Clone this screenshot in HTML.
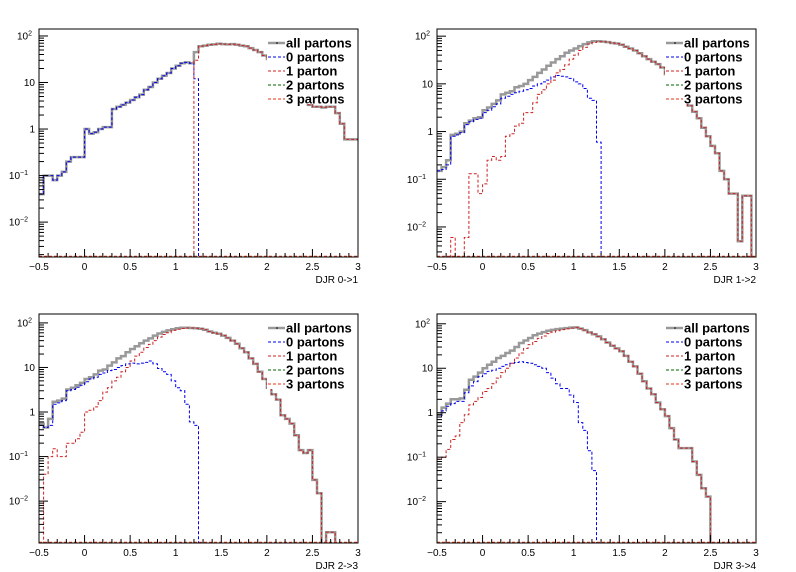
<!DOCTYPE html>
<html><head><meta charset="utf-8"><style>
html,body{margin:0;padding:0;background:#fff;}
svg{display:block;font-family:"Liberation Sans",sans-serif;}
</style></head><body>
<svg id="c" width="796" height="572" viewBox="0 0 796 572" xmlns="http://www.w3.org/2000/svg"></svg>
<script>
const binStart=-0.5, binWidth=0.05;
const xTickLabels=["\u22120.5","0","0.5","1","1.5","2","2.5","3"];
const xTickValues=[-0.5,0,0.5,1,1.5,2,2.5,3];
const axisTitles=["DJR 0->1","DJR 1->2","DJR 2->3","DJR 3->4"];
const legendLabels=["all partons","0 partons","1 parton","2 partons","3 partons"];
// panel 1
const all1=[0.04,0.1,0.1,0.08,0.1,0.12,0.2,0.25,0.25,0.25,1.0,0.8,0.85,1.0,1.1,1.1,2.7,3.0,3.3,3.7,4.2,4.8,5.5,7,8,10,12,14,16,20,23,26,27,26,45,60,62,65,66,68,67,66,67,65,62,60,55,50,45,38,32,26,20,15,11,8,6,4.5,3.8,3.3,3.0,3.0,2.9,3.0,3.0,2.2,1.3,0.6,0.6,0.6];
const p0_1=[0.04,0.1,0.1,0.08,0.1,0.12,0.2,0.25,0.25,0.25,1.0,0.8,0.85,1.0,1.1,1.1,2.7,3.0,3.3,3.7,4.2,4.8,5.5,7,8,10,12,14,16,20,23,26,27,26,12,0,0,0,0,0,0,0,0,0,0,0,0,0,0,0,0,0,0,0,0,0,0,0,0,0,0,0,0,0,0,0,0,0,0,0];
const p1_1=[0,0,0,0,0,0,0,0,0,0,0,0,0,0,0,0,0,0,0,0,0,0,0,0,0,0,0,0,0,0,0,0,0,0,30,60,62,65,66,68,67,66,67,65,62,60,55,50,45,38,32,26,20,15,11,8,6,4.5,3.8,3.3,3.0,3.0,2.9,3.0,3.0,2.2,1.3,0.6,0.6,0.6];
// panel 2
const all2=[0.15,0.18,0.25,0.85,0.9,1.0,1.5,1.7,1.9,2.0,2.8,3.2,3.8,4.5,6,6.5,7,8.5,9,10,12,14,17,20,24,28,33,38,45,50,55,62,68,74,78,78,77,75,72,70,66,60,55,50,44,38,33,29,26,22,16,12,8,6,4.5,3.5,2.6,1.9,1.2,0.8,0.5,0.35,0.15,0.1,0.05,0.05,0.005,0.045,0.045,0];
const p0_2=[0.15,0.16,0.2,0.8,0.85,0.95,1.4,1.6,1.8,1.9,2.5,2.8,3.3,3.8,5,5.5,6,6.5,7,7.5,8,9,10,11,12,14,15,14.5,14,13,11,10,8,5,4.5,0.6,0,0,0,0,0,0,0,0,0,0,0,0,0,0,0,0,0,0,0,0,0,0,0,0,0,0,0,0,0,0,0,0,0,0];
const p1_2=[0,0,0,0.006,0,0,0.006,0.13,0.13,0.05,0.08,0.25,0.3,0.25,0.3,0.8,0.9,1.3,1.5,2.5,2.5,4,6,7.5,10,12,17,20,25,33,40,50,58,68,74,77,77,75,72,70,66,60,55,50,44,38,33,29,26,22,16,12,8,6,4.5,3.5,2.6,1.9,1.2,0.8,0.5,0.35,0.15,0.1,0.05,0.05,0.005,0.045,0.045,0];
// panel 3
const all3=[0.55,0.45,0.7,1.7,1.8,2.0,3.2,3.5,4,4.5,5.5,6,7,8.5,9,11,13,16,18,22,26,30,35,40,45,52,58,63,68,72,76,78,78,77,76,74,70,64,60,57,52,46,40,34,27,22,16,12,8,5.5,3.5,2.5,1.9,0.85,0.7,0.55,0.3,0.14,0.12,0.14,0.03,0.015,0,0.002,0.002,0,0,0,0,0];
const p0_3=[0.5,0.45,0.5,1.5,1.6,1.8,3,3.2,3.6,4,4.8,5.5,6,7,7.5,8.5,9,10,11,12,12.5,12,12.5,13,14,12,9.5,8,7,5,3.5,3,1.5,0.6,0.5,0,0,0,0,0,0,0,0,0,0,0,0,0,0,0,0,0,0,0,0,0,0,0,0,0,0,0,0,0,0,0,0,0,0,0];
const p1_3=[0,0.04,0.1,0.15,0.1,0.1,0.2,0.2,0.25,0.35,1.0,1.1,1.3,1.8,2.8,3.5,5,6,8,10,14,18,22,28,33,40,48,55,60,68,72,75,77,77,76,74,70,64,60,57,52,46,40,34,27,22,16,12,8,5.5,3.5,2.5,1.9,0.85,0.7,0.55,0.3,0.14,0.12,0.14,0.03,0.015,0,0.002,0.002,0,0,0,0,0];
// panel 4
const all4=[0.9,1.3,1.6,2,2,2.1,3.3,5.5,6.5,8,10,12,14,17,19,22,25,30,37,42,48,55,60,65,70,73,76,78,80,82,83,78,72,64,58,52,45,38,32,28,24,19,14,11,7.5,5.1,3.5,2.6,1.7,1.2,0.84,0.45,0.25,0.16,0.16,0.16,0.08,0.04,0.02,0.013,0,0,0,0,0,0,0,0,0,0];
const p0_4=[0.8,1.1,1.4,1.6,1.8,1.8,2.8,4,5,6.5,7.5,8.5,9,10,11,12,13,13.5,14,13.5,13,12,11,10,8,6,4.5,3.5,3.5,2.5,1.7,0.6,0.4,0.14,0.05,0,0,0,0,0,0,0,0,0,0,0,0,0,0,0,0,0,0,0,0,0,0,0,0,0,0,0,0,0,0,0,0,0,0,0];
const p1_4=[0.09,0.1,0.15,0.25,0.3,0.6,0.9,1.5,1.8,2.2,3,3.5,4.5,6,8,10,13,17,22,28,34,40,47,53,60,65,70,74,77,80,82,78,72,64,58,52,45,38,32,28,24,19,14,11,7.5,5.1,3.5,2.6,1.7,1.2,0.84,0.45,0.25,0.16,0.16,0.16,0.08,0.04,0.02,0.013,0,0,0,0,0,0,0,0,0,0];

const panels=[
 {L:39,R:358,T:29,B:257,lo:-2.75,hi:2.15,all:all1,p0:p0_1,p1:p1_1,title:axisTitles[0]},
 {L:437,R:756,T:29,B:257,lo:-2.63,hi:2.15,all:all2,p0:p0_2,p1:p1_2,title:axisTitles[1]},
 {L:39,R:358,T:314,B:543,lo:-2.94,hi:2.2,all:all3,p0:p0_3,p1:p1_3,title:axisTitles[2]},
 {L:437,R:756,T:314,B:543,lo:-2.93,hi:2.22,all:all4,p0:p0_4,p1:p1_4,title:axisTitles[3]}
];
const NS="http://www.w3.org/2000/svg";
const svg=document.getElementById('c');
function mk(tag,attrs,parent){const e=document.createElementNS(NS,tag);for(const k in attrs)e.setAttribute(k,attrs[k]);(parent||svg).appendChild(e);return e;}
const supMap={"2":"2","-1":"\u22121","-2":"\u22122"};

panels.forEach((p,pi)=>{
 const g=mk('g',{});
 
 
 const xs=v=>p.L+(v-(-0.5))/3.5*(p.R-p.L);
 const ys=v=>{const lv=Math.log10(v);return p.B-(lv-p.lo)/(p.hi-p.lo)*(p.B-p.T);};
 const cid='clip'+pi;
 const defs=mk('defs',{},g);const cp=mk('clipPath',{id:cid},defs);mk('rect',{x:p.L,y:p.T,width:p.R-p.L,height:p.B-p.T},cp);
 function stepPath(arr){
  let d='';
  arr.forEach((v,i)=>{
   const x0=xs(binStart+i*binWidth),x1=xs(binStart+(i+1)*binWidth);
   const y=v>0?Math.min(ys(v),p.B+2):p.B+2;
   d+=(i===0?'M':'L')+x0.toFixed(1)+','+y.toFixed(1)+'L'+x1.toFixed(1)+','+y.toFixed(1);
  });
  return d;
 }
 const sg=mk('g',{'clip-path':'url(#'+cid+')'},g);
 const a=mk('path',{d:stepPath(p.all),fill:'none',stroke:'#999','stroke-width':2.5},sg);
 
 
 const b=mk('path',{d:stepPath(p.p0),fill:'none',stroke:'#0000ee','stroke-width':1,'stroke-dasharray':'3,2'},sg);
 
 
 const r=mk('path',{d:stepPath(p.p1),fill:'none',stroke:'#cc2222','stroke-width':1,'stroke-dasharray':'3,2'},sg);
 
 
 const o=mk('line',{x1:p.L,x2:p.R,y1:p.B-0.5,y2:p.B-0.5,stroke:'#ee3311','stroke-width':1.5,'stroke-dasharray':'3,2'},sg);
 
 
 // frame
 const fr=mk('rect',{x:p.L,y:p.T,width:p.R-p.L,height:p.B-p.T,fill:'none',stroke:'#000','stroke-width':1},g);
 
 
 // x ticks
 for(let k=0;k<=35;k++){
  const v=-0.5+k*0.1, x=xs(v), major=(k%5===0);
  mk('line',{x1:x,x2:x,y1:p.B,y2:p.B-(major?8:4),stroke:'#000','stroke-width':1},g);
 }
 xTickValues.forEach((v,i)=>{
  const t=mk('text',{x:xs(v),y:p.B+13,'font-size':10,'text-anchor':'middle',fill:'#000'},g);
  t.textContent=xTickLabels[i];
  
  
 });
 const at=mk('text',{x:p.R,y:p.B+26,'font-size':10,'text-anchor':'end',fill:'#000'},g);
 at.textContent=p.title;
 
 
 // y ticks
 for(let d=-3;d<=2;d++){
  for(let m=1;m<=9;m++){
   const v=m*Math.pow(10,d);const lv=Math.log10(v);
   if(lv<p.lo||lv>p.hi)continue;
   const y=ys(v);
   mk('line',{x1:p.L,x2:p.L+(m===1?9:5),y1:y,y2:y,stroke:'#000','stroke-width':1},g);
  }
  if(d>=p.lo&&d<=p.hi){
   const y=ys(Math.pow(10,d));
   const t=mk('text',{x:p.L-4,y:y+3.5,'font-size':10,'text-anchor':'end',fill:'#000'},g);
   
   
   if(d===0)t.textContent='1';else if(d===1)t.textContent='10';
   else{t.textContent='10';const s=mk('tspan',{dy:-4,'font-size':7},t);s.textContent=supMap[String(d)];t.setAttribute('x',p.L-3-(d<0?8:4));}
  }
 }
 // legend
 const lg=mk('g',{},g);
 
 
 mk('rect',{x:p.L+228,y:p.T+7,width:p.R-p.L-229,height:68,fill:'#fff'},lg);
 const styles=[{c:'#999',w:2.5,da:''},{c:'#0000ee',w:1,da:'3,2'},{c:'#cc2222',w:1,da:'3,2'},{c:'#006600',w:1,da:'3,2'},{c:'#ee3311',w:1,da:'3,2'}];
 legendLabels.forEach((lab,i)=>{
  const yy=p.T+14+i*14;
  const le=mk('g',{},lg);
  
  
  const ln=mk('line',{x1:p.L+229,x2:p.L+246,y1:yy,y2:yy,stroke:styles[i].c,'stroke-width':styles[i].w},le);
  if(styles[i].da)ln.setAttribute('stroke-dasharray',styles[i].da);
  if(i===0)mk('circle',{cx:p.L+238,cy:yy,r:0.8,fill:'#000'},le);
  const t=mk('text',{x:p.L+247,y:yy+4.5,'font-size':13,'font-weight':'bold',fill:'#000'},le);
  t.textContent=lab;
 });
});
</script>
</body></html>
